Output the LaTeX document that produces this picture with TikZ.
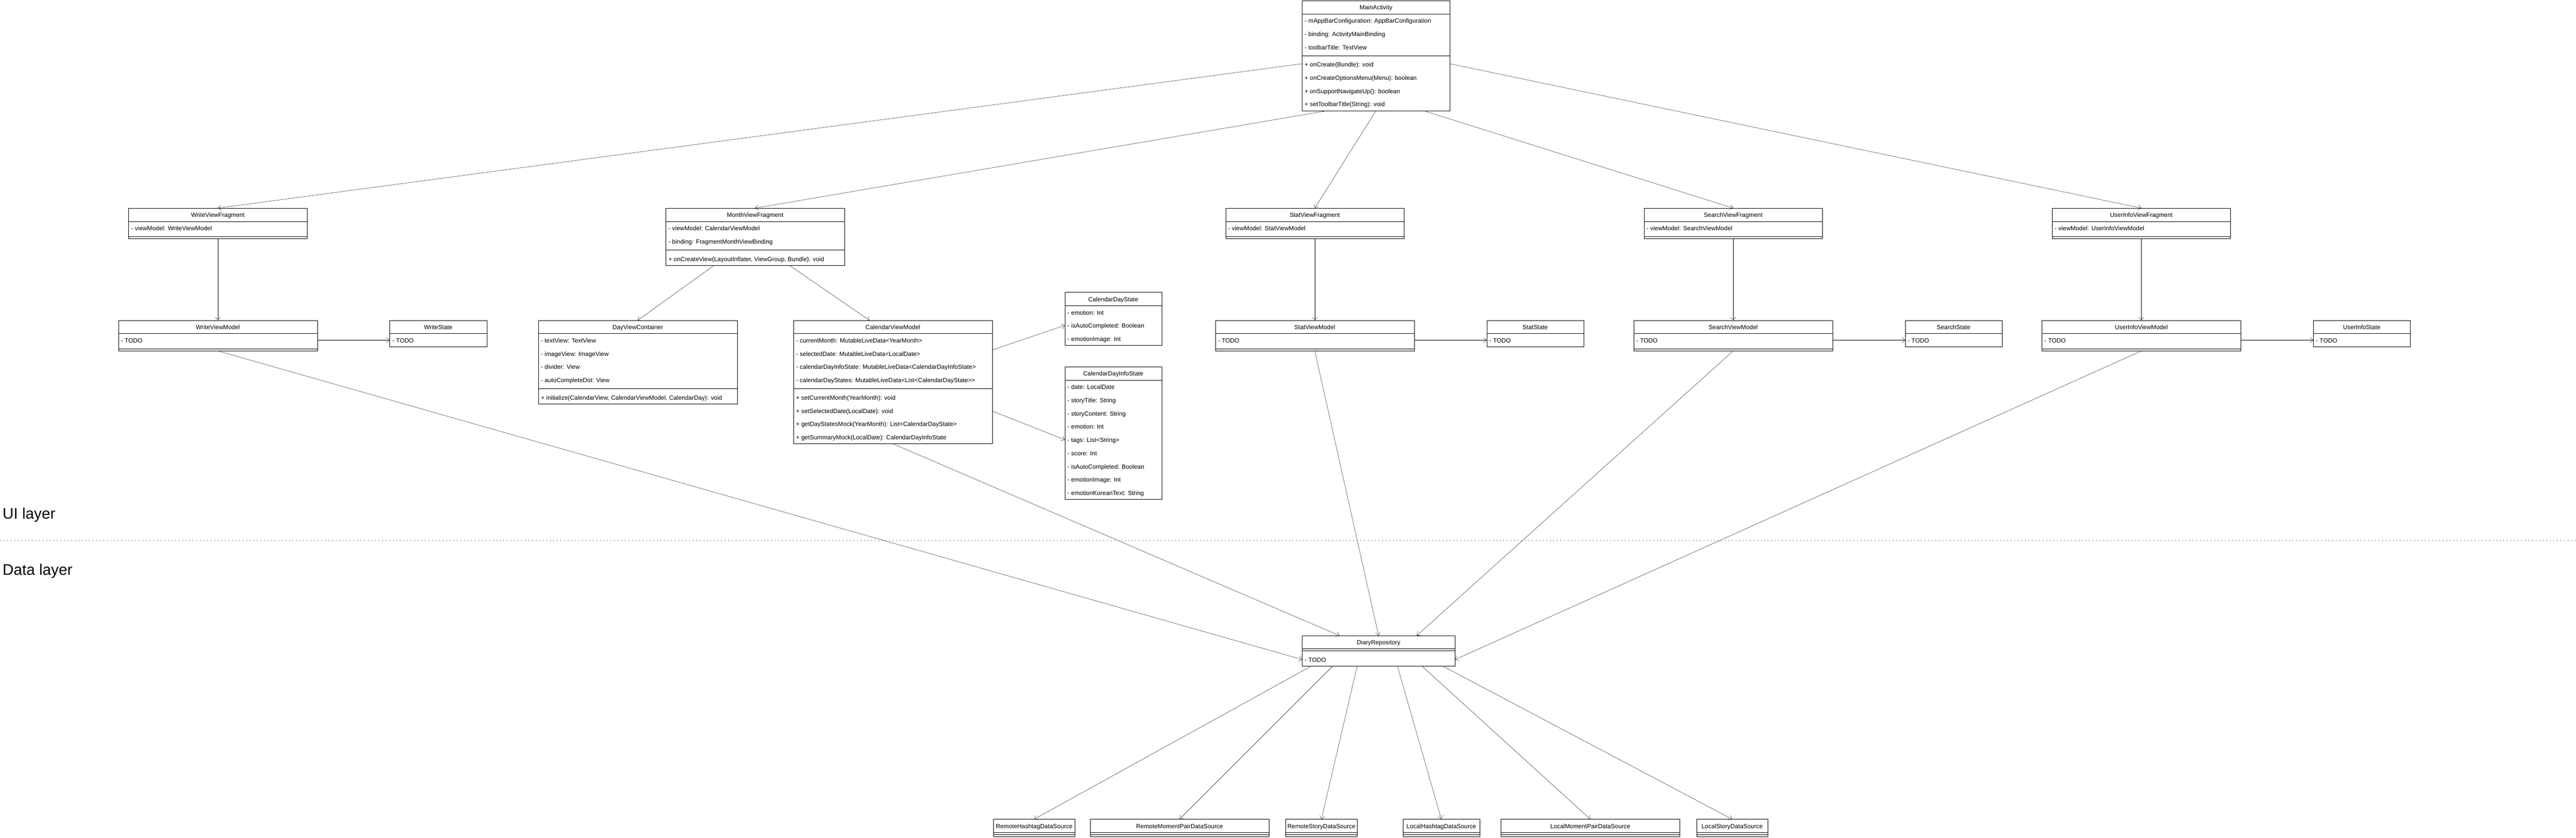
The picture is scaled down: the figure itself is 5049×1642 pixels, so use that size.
\documentclass[tikz,border=0pt]{standalone}
\usepackage{fontspec}
\newfontfamily\umlfont{Liberation Sans}
\usetikzlibrary{arrows.meta}
\tikzset{
x=1pt, y=-1pt, % one unit is one pixel of the drawing, y grows downwards
line width=1pt,
uml/.style={draw, fill=white, anchor=north west, inner sep=0pt, outer sep=0pt}, % frame of a class
title/.style={anchor=base, inner sep=0pt, font=\umlfont\fontsize{12}{14}\selectfont}, % class name
member/.style={anchor=base west, inner sep=0pt, font=\umlfont\fontsize{12}{14}\selectfont}, % one row
dep/.style={-{Straight Barb[length=6pt,width=10pt]}}, % open arrow head
layertext/.style={anchor=base west, inner sep=0pt, font=\umlfont\fontsize{30}{36}\selectfont},
divider/.style={dash pattern=on 1pt off 6pt},
}
% class with separator: name, x, y, width, title, #attributes, attributes, #methods, methods
\newcommand{\umlclass}[9]{%
\node[uml, minimum width=#4, minimum height={34+26*(#6+#8)}] (#1) at (#2,#3) {};
\path (#1.north west) ++({#4/2},18) node[title] {#5};
\draw (#1.north west) ++(0,26) -- ++(#4,0);
\ifnum#6>0
\foreach \a [count=\i] in {#7} \path (#1.north west) ++(5,{26*\i+18}) node[member] {\a};
\fi
\draw (#1.north west) ++(0,{30+26*#6}) -- ++(#4,0);
\ifnum#8>0
\foreach \a [count=\i] in {#9} \path (#1.north west) ++(5,{34+26*(#6+\i-1)+18}) node[member] {\a};
\fi
}
% state class without separator: name, x, y, width, title, #rows, rows
\newcommand{\umlstate}[7]{%
\node[uml, minimum width=#4, minimum height={26+26*#6}] (#1) at (#2,#3) {};
\path (#1.north west) ++({#4/2},18) node[title] {#5};
\draw (#1.north west) ++(0,26) -- ++(#4,0);
\foreach \a [count=\i] in {#7} \path (#1.north west) ++(5,{26*\i+18}) node[member] {\a};
}
\begin{document}
\begin{tikzpicture}
\path[fill=white, use as bounding box] (0,0) rectangle (5049,1642);

% activity
\umlclass{main}{2552}{1}{290}{MainActivity}{3}{- mAppBarConfiguration: AppBarConfiguration, - binding: ActivityMainBinding, - toolbarTitle: TextView}{4}{+ onCreate(Bundle): void, + onCreateOptionsMenu(Menu): boolean, + onSupportNavigateUp(): boolean, + setToolbarTitle(String): void}

% write
\umlclass{wfrag}{252}{408}{350}{WriteViewFragment}{1}{- viewModel: WriteViewModel}{0}{}
\umlclass{wvm}{232}{628}{390}{WriteViewModel}{1}{- TODO}{0}{}
\umlstate{wstate}{764}{628}{190}{WriteState}{1}{- TODO}

% month
\umlclass{mfrag}{1305}{408}{350}{MonthViewFragment}{2}{- viewModel: CalendarViewModel, - binding: FragmentMonthViewBinding}{1}{{+ onCreateView(LayoutInflater, ViewGroup, Bundle): void}}
\umlclass{dayc}{1055}{628}{390}{DayViewContainer}{4}{- textView: TextView, - imageView: ImageView, - divider: View, - autoCompleteDot: View}{1}{{+ initialize(CalendarView, CalendarViewModel, CalendarDay): void}}
\umlclass{cvm}{1555}{628}{390}{CalendarViewModel}{4}{- currentMonth: MutableLiveData<YearMonth>, - selectedDate: MutableLiveData<LocalDate>, - calendarDayInfoState: MutableLiveData<CalendarDayInfoState>, - calendarDayStates: MutableLiveData<List<CalendarDayState>>}{4}{+ setCurrentMonth(YearMonth): void, + setSelectedDate(LocalDate): void, + getDayStatesMock(YearMonth): List<CalendarDayState>, + getSummaryMock(LocalDate): CalendarDayInfoState}
\umlstate{cdstate}{2087}{573}{190}{CalendarDayState}{3}{- emotion: Int, - isAutoCompleted: Boolean, - emotionImage: Int}
\umlstate{cdinfo}{2087}{719}{190}{CalendarDayInfoState}{9}{- date: LocalDate, - storyTitle: String, - storyContent: String, - emotion: Int, - tags: List<String>, - score: Int, - isAutoCompleted: Boolean, - emotionImage: Int, - emotionKoreanText: String}

% stat, search, user info
\umlclass{sfrag}{2402}{408}{350}{StatViewFragment}{1}{- viewModel: StatViewModel}{0}{}
\umlclass{svm}{2382}{628}{390}{StatViewModel}{1}{- TODO}{0}{}
\umlstate{sstate}{2914}{628}{190}{StatState}{1}{- TODO}
\umlclass{qfrag}{3222}{408}{350}{SearchViewFragment}{1}{- viewModel: SearchViewModel}{0}{}
\umlclass{qvm}{3202}{628}{390}{SearchViewModel}{1}{- TODO}{0}{}
\umlstate{qstate}{3734}{628}{190}{SearchState}{1}{- TODO}
\umlclass{ufrag}{4022}{408}{350}{UserInfoViewFragment}{1}{- viewModel: UserInfoViewModel}{0}{}
\umlclass{uvm}{4002}{628}{390}{UserInfoViewModel}{1}{- TODO}{0}{}
\umlstate{ustate}{4534}{628}{190}{UserInfoState}{1}{- TODO}

% data layer
\umlclass{repo}{2552}{1246}{300}{DiaryRepository}{0}{}{1}{- TODO}
\umlclass{rhash}{1947}{1606}{160}{RemoteHashtagDataSource}{0}{}{0}{}
\umlclass{rmoment}{2137}{1606}{350}{RemoteMomentPairDataSource}{0}{}{0}{}
\umlclass{rstory}{2520}{1606}{140}{RemoteStoryDataSource}{0}{}{0}{}
\umlclass{lhash}{2750}{1606}{150}{LocalHashtagDataSource}{0}{}{0}{}
\umlclass{lmoment}{2942}{1606}{350}{LocalMomentPairDataSource}{0}{}{0}{}
\umlclass{lstory}{3325}{1606}{140}{LocalStoryDataSource}{0}{}{0}{}

\node[layertext] (ui) at (5,1017) {UI layer};
\node[layertext] (data) at (5,1127) {Data layer};
\draw[divider] (0,1059) -- (5049,1059);

% connectors
\draw[dep] ([yshift=-16pt]main.west) -- (wfrag.north);
\draw[dep] ([xshift=-95pt]main.south) -- (mfrag.north);
\draw[dep] (main.south) -- (sfrag.north);
\draw[dep] ([xshift=93pt]main.south) -- (qfrag.north);
\draw[dep] ([yshift=-16pt]main.east) -- (ufrag.north);
\foreach \f/\v/\s in {wfrag/wvm/wstate, sfrag/svm/sstate, qfrag/qvm/qstate, ufrag/uvm/ustate} {
\draw[dep] (\f) -- (\v);
\draw[dep] ([yshift=-9pt]\v.east) -- ([yshift=-13pt]\s.west);
}
\draw[dep] ([xshift=-80pt]mfrag.south) -- (dayc.north);
\draw[dep] ([xshift=67pt]mfrag.south) -- ([xshift=-46pt]cvm.north);
\draw[dep] ([yshift=63pt]cvm.east) -- ([yshift=-13pt]cdstate.west);
\draw[dep] ([yshift=-57pt]cvm.east) -- ([yshift=-13pt]cdinfo.west);
\draw[dep] (wvm.south) -- ([yshift=-17pt]repo.west);
\draw[dep] (cvm.south) -- ([xshift=-77pt]repo.north);
\draw[dep] (svm.south) -- (repo.north);
\draw[dep] (qvm.south) -- ([xshift=75pt]repo.north);
\draw[dep] (uvm.south) -- ([yshift=-17pt]repo.east);
\foreach \d/\s in {rhash/-132, rmoment/-90, rstory/-42, lhash/37, lmoment/85, lstory/126}
\draw[dep] ([xshift=\s pt]repo.south) -- (\d.north);
\end{tikzpicture}
\end{document}
